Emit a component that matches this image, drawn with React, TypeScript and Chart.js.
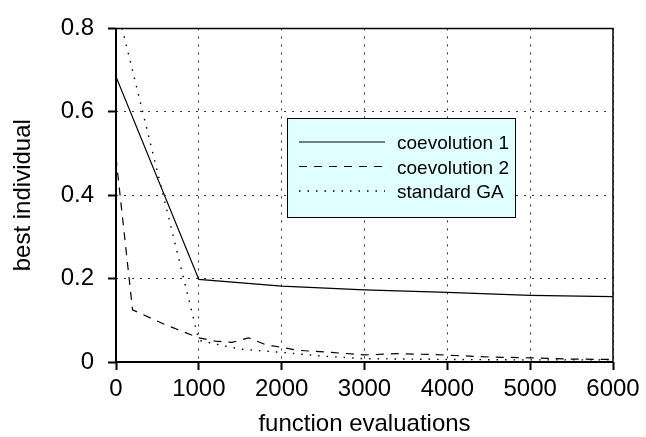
import { useEffect, useRef } from "react";
import { Chart, registerables } from "chart.js";

Chart.register(...registerables);

// ---- data ----
const xTickValues = [0, 1000, 2000, 3000, 4000, 5000, 6000];
const yTickValues = [0, 0.2, 0.4, 0.6, 0.8];
const seriesLabels = ["coevolution 1", "coevolution 2", "standard GA"];
const xAxisTitle = "function evaluations";
const yAxisTitle = "best individual";

const coev1X = [0, 1000, 2000, 3000, 4000, 5000, 6000];
const coev1Y = [0.684, 0.198, 0.182, 0.173, 0.167, 0.16, 0.157];

const coev2X = [0, 200, 600, 1000, 1200, 1400, 1600, 1800, 2000, 2200, 2600, 3000, 3400, 3800, 4100, 4500, 5000, 5500, 6000];
const coev2Y = [0.49, 0.125, 0.089, 0.058, 0.05, 0.047, 0.058, 0.042, 0.035, 0.028, 0.023, 0.017, 0.02, 0.018, 0.0156, 0.012, 0.01, 0.007, 0.006];

const gaX = [0, 1000, 1300, 1500, 2000, 2500, 3000, 4000, 5000, 6000];
const gaY = [0.86, 0.052, 0.039, 0.031, 0.023, 0.014, 0.008, 0.006, 0.005, 0.005];

const FONT = "'Liberation Sans', Arial, Helvetica, sans-serif";

const toPoints = (xs: number[], ys: number[]) => xs.map((x, i) => ({ x, y: ys[i] }));

const framePlugin = {
  id: "frame",
  afterDatasetsDraw(chart: any) {
    const { ctx, chartArea } = chart;
    const { left, right, top, bottom } = chartArea;
    ctx.save();
    ctx.strokeStyle = "#000";
    ctx.setLineDash([]);
    ctx.lineWidth = 1.5;
    ctx.beginPath();
    ctx.moveTo(left, top);
    ctx.lineTo(right, top);
    ctx.lineTo(right, bottom);
    ctx.stroke();
    ctx.lineWidth = 2;
    ctx.beginPath();
    ctx.moveTo(left, top);
    ctx.lineTo(left, bottom);
    ctx.lineTo(right, bottom);
    ctx.stroke();
    ctx.restore();
  },
};

const legendPlugin = {
  id: "boxLegend",
  afterDraw(chart: any) {
    const { ctx } = chart;
    const bx = 287, by = 118, bw = 228, bh = 99;
    ctx.save();
    ctx.fillStyle = "#e0ffff";
    ctx.fillRect(bx, by, bw, bh);
    ctx.strokeStyle = "#000";
    ctx.lineWidth = 1;
    ctx.setLineDash([]);
    ctx.strokeRect(bx + 0.5, by + 0.5, bw, bh);
    const rowY = [142, 166.5, 191];
    chart.data.datasets.forEach((ds: any, i: number) => {
      const y = rowY[i];
      ctx.strokeStyle = ds.borderColor;
      ctx.lineWidth = ds.borderWidth;
      ctx.setLineDash(ds.borderDash || []);
      ctx.beginPath();
      ctx.moveTo(299, y);
      ctx.lineTo(385, y);
      ctx.stroke();
      ctx.setLineDash([]);
      ctx.fillStyle = "#000";
      ctx.font = `19px ${FONT}`;
      ctx.textBaseline = "alphabetic";
      ctx.textAlign = "left";
      ctx.fillText(ds.label, 397, y + 7);
    });
    ctx.restore();
  },
};

export default function App() {
  const ref = useRef<HTMLCanvasElement | null>(null);

  useEffect(() => {
    if (!ref.current) return;
    const chart = new Chart(ref.current, {
      type: "line",
      data: {
        datasets: [
          {
            label: seriesLabels[0],
            data: toPoints(coev1X, coev1Y),
            borderColor: "#000",
            borderWidth: 1.2,
            pointRadius: 0,
            tension: 0,
          },
          {
            label: seriesLabels[1],
            data: toPoints(coev2X, coev2Y),
            borderColor: "#000",
            borderWidth: 1.2,
            borderDash: [8, 7],
            pointRadius: 0,
            tension: 0,
          },
          {
            label: seriesLabels[2],
            data: toPoints(gaX, gaY),
            borderColor: "#000",
            borderWidth: 1.4,
            borderDash: [1.5, 7],
            pointRadius: 0,
            tension: 0,
          },
        ],
      },
      options: {
        animation: false,
        responsive: false,
        devicePixelRatio: 1,
        layout: { padding: { top: 17, right: 33, left: 0, bottom: 0 } },
        plugins: { legend: { display: false }, tooltip: { enabled: false } },
        scales: {
          x: {
            type: "linear",
            min: 0,
            max: 6000,
            afterBuildTicks: (s: any) => {
              s.ticks = xTickValues.map((v) => ({ value: v }));
            },
            afterFit: (s: any) => {
              s.height = 75;
            },
            ticks: {
              callback: (v: any) => String(v),
              color: "#000",
              font: { family: FONT, size: 24 },
              padding: 5,
              maxRotation: 0,
              autoSkip: false,
            },
            grid: {
              color: "#333",
              lineWidth: 1,
              drawTicks: true,
              tickLength: 8,
              tickColor: "#000",
              tickWidth: 2,
              tickBorderDash: [],
            },
            border: { display: false, dash: [2, 6] },
            title: {
              display: true,
              text: xAxisTitle,
              color: "#000",
              font: { family: FONT, size: 24, lineHeight: 1 },
              padding: { top: 0, bottom: 1 },
            },
          },
          y: {
            type: "linear",
            min: 0,
            max: 0.8,
            afterBuildTicks: (s: any) => {
              s.ticks = yTickValues.map((v) => ({ value: v }));
            },
            afterFit: (s: any) => {
              s.width = 116;
            },
            ticks: {
              callback: (v: any) => String(v),
              color: "#000",
              font: { family: FONT, size: 24 },
              padding: 14,
              autoSkip: false,
            },
            grid: {
              color: "#333",
              lineWidth: 1,
              drawTicks: true,
              tickLength: 8,
              tickColor: "#000",
              tickWidth: 2,
              tickBorderDash: [],
            },
            border: { display: false, dash: [2, 6] },
            title: {
              display: true,
              text: yAxisTitle,
              color: "#000",
              font: { family: FONT, size: 24, lineHeight: 1 },
              padding: { top: 11, bottom: 0 },
            },
          },
        },
      },
      plugins: [framePlugin, legendPlugin],
    } as any);
    return () => chart.destroy();
  }, []);

  return (
    <div style={{ position: "absolute", left: 0, top: 0, width: 646, height: 437, background: "#fff" }}>
      <canvas ref={ref} width={646} height={437} />
    </div>
  );
}
